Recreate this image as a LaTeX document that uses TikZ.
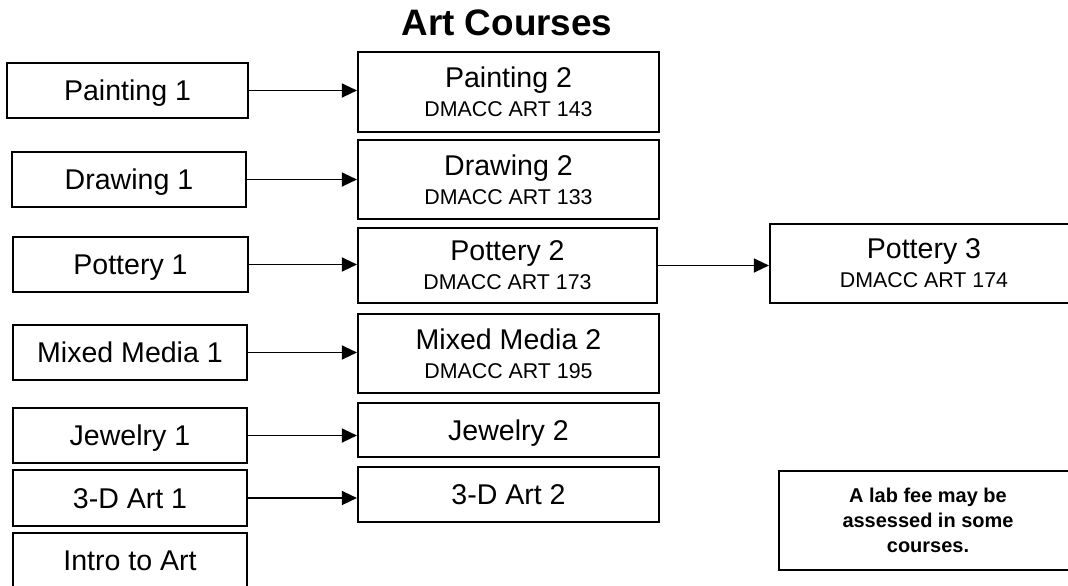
\documentclass[tikz,border=0pt]{standalone}
\usepackage{fontspec}
\setmainfont{Liberation Sans}
\usetikzlibrary{arrows.meta}
\newcommand{\crsfont}{\fontsize{20.3}{24}\selectfont}
\newcommand{\dmacc}[1]{\\[-3.5pt]{\fontsize{15.2}{18}\selectfont DMACC ART #1}}
\tikzset{
  course/.style={draw, line width=1.4pt, inner sep=0pt, align=center, font=\crsfont},
  oneline/.style={text height=14.5pt, text depth=0pt},
  first/.style={course, oneline, minimum width=5.85cm, minimum height=1.375cm},
  second/.style={course, minimum width=7.525cm},
  prereq/.style={-{Triangle[length=0.38cm,width=0.35cm]}, line width=1.3pt},
}

\begin{document}
\begin{tikzpicture}[x=0.025cm, y=-0.025cm]
        \useasboundingbox (0,0) rectangle (1068,586);
        \clip (0,0) rectangle (1068,586);
        \node[anchor=base, font=\fontsize{26.2}{30}\selectfont\bfseries] (title) at (507,35) {Art Courses};
        % first year
        \node[first, minimum width=6.025cm] (pa1) at (127.5,90.5) {Painting 1};
        \node[first] (dr1) at (129,179.5) {Drawing 1};
        \node[first] (po1) at (130.5,264.5) {Pottery 1};
        \node[first] (mm1) at (130,352.5) {Mixed Media 1};
        \node[first] (je1) at (130,435.5) {Jewelry 1};
        \node[first, minimum height=1.4cm] (ar1) at (130,498) {3-D Art 1};
        \node[first] (intro) at (130,560.5) {Intro to Art};
        % second year
        \node[second, minimum height=2cm] (pa2) at (508.5,92) {Painting 2\dmacc{143}};
        \node[second, minimum height=1.975cm] (dr2) at (508.5,179.5) {Drawing 2\dmacc{133}};
        \node[second, minimum width=7.475cm, minimum height=1.875cm] (po2) at (507.5,265.5) {Pottery 2\dmacc{173}};
        \node[second, minimum height=1.975cm] (mm2) at (508.5,353.5) {Mixed Media 2\dmacc{195}};
        \node[second, oneline, minimum height=1.35cm] (je2) at (508.5,430) {Jewelry 2};
        \node[second, oneline, minimum height=1.375cm] (ar2) at (508.5,494.5) {3-D Art 2};
        % third year
        \node[course, minimum width=7.7cm, minimum height=1.975cm] (po3) at (924,263.5) {Pottery 3\dmacc{174}};
        \node[course, minimum width=7.45cm, minimum height=2.475cm, font=\fontsize{14.2}{17.8}\selectfont\bfseries] (fee) at (928,520.5) {A lab fee may be\\assessed in some\\courses.};
        % \draw[step=50,gray,very thin] (0,0) grid (1068,586);
        \draw[prereq] (pa1.east) -- (pa1.east -| pa2.west);
        \draw[prereq] (dr1.east) -- (dr1.east -| dr2.west);
        \draw[prereq] (po1.east) -- (po1.east -| po2.west);
        \draw[prereq] (mm1.east) -- (mm1.east -| mm2.west);
        \draw[prereq] (je1.east) -- (je1.east -| je2.west);
        \draw[prereq] (ar1.east) -- (ar1.east -| ar2.west);
        \draw[prereq] (po2.east) -- (po2.east -| po3.west);
      \end{tikzpicture}
\end{document}
